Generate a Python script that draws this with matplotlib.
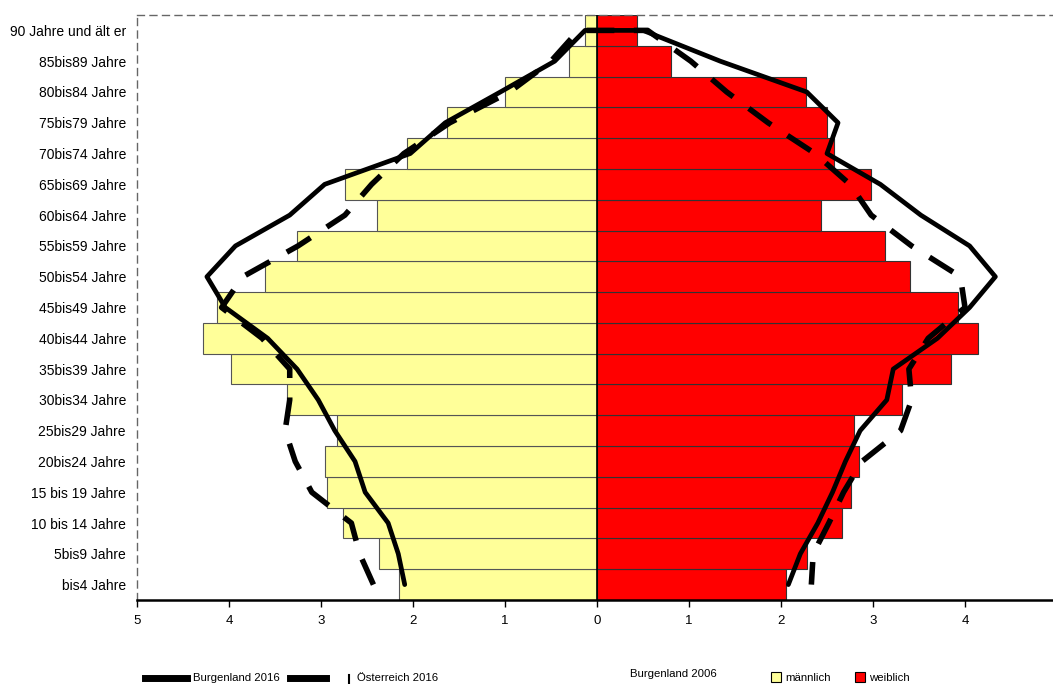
import matplotlib
matplotlib.use("Agg")
import matplotlib.pyplot as plt
from matplotlib.lines import Line2D
from matplotlib.patches import Rectangle
import numpy as np

plt.rcParams["font.family"] = ["Liberation Sans Narrow", "Liberation Sans", "DejaVu Sans"]

# age groups, bottom to top
groups = ["bis4 Jahre", "5bis9 Jahre", "10 bis 14 Jahre", "15 bis 19 Jahre", "20bis24 Jahre",
          "25bis29 Jahre", "30bis34 Jahre", "35bis39 Jahre", "40bis44 Jahre", "45bis49 Jahre",
          "50bis54 Jahre", "55bis59 Jahre", "60bis64 Jahre", "65bis69 Jahre", "70bis74 Jahre",
          "75bis79 Jahre", "80bis84 Jahre", "85bis89 Jahre", "90 Jahre und ält er"]

# Burgenland 2006 (bars), percent
male_2006 = [2.15, 2.37, 2.76, 2.93, 2.96, 2.83, 3.37, 3.98, 4.28, 4.13,
             3.61, 3.26, 2.39, 2.74, 2.07, 1.63, 1.00, 0.30, 0.13]
female_2006 = [2.05, 2.28, 2.66, 2.76, 2.85, 2.79, 3.32, 3.85, 4.14, 3.92,
               3.40, 3.13, 2.44, 2.98, 2.58, 2.50, 2.27, 0.80, 0.44]

# Burgenland 2016 (solid line)
male_bgld16 = [2.09, 2.16, 2.27, 2.52, 2.63, 2.85, 3.03, 3.26, 3.58, 4.04,
               4.24, 3.93, 3.34, 2.96, 2.03, 1.65, 1.05, 0.46, 0.13]
female_bgld16 = [2.08, 2.21, 2.40, 2.56, 2.70, 2.86, 3.15, 3.22, 3.70, 4.05,
                 4.33, 4.05, 3.52, 3.08, 2.50, 2.62, 2.28, 1.34, 0.50]

# Österreich 2016 (dashed line)
male_oe16 = [2.43, 2.58, 2.67, 3.10, 3.28, 3.39, 3.34, 3.34, 3.64, 4.08,
             3.85, 3.25, 2.74, 2.45, 2.10, 1.60, 0.95, 0.50, 0.20]
female_oe16 = [2.33, 2.35, 2.52, 2.68, 2.88, 3.30, 3.42, 3.39, 3.60, 4.00,
               3.95, 3.42, 2.98, 2.75, 2.37, 1.86, 1.41, 1.02, 0.55]

W, H = 1053, 684
fig = plt.figure(figsize=(W / 100, H / 100), dpi=100)
ax = fig.add_axes([137 / W, 84 / H, (1057 - 137) / W, (600 - 15) / H])

y = np.arange(len(groups))
ax.barh(y, [-v for v in male_2006], height=1.0, color="#ffff99", edgecolor="#555555", linewidth=0.8)
ax.barh(y, female_2006, height=1.0, color="#ff0000", edgecolor="#333333", linewidth=0.8)
ax.axvline(0, color="black", lw=1.2)

# lines run from bottom of male side up, across the top, down the female side
ys = np.concatenate([y, y[::-1]])
bg = np.concatenate([-np.array(male_bgld16), np.array(female_bgld16)[::-1]])
oe = np.concatenate([-np.array(male_oe16), np.array(female_oe16)[::-1]])
ax.plot(bg, ys, color="black", lw=3.4, solid_joinstyle="round", solid_capstyle="round")
ax.plot(oe, ys, color="black", lw=4.0, dashes=(5, 3.5))

ax.set_xlim(-5, 5)
ax.set_ylim(-0.5, 18.5)
ax.set_yticks(y)
ax.set_yticklabels(groups, fontsize=10)
ax.tick_params(axis="y", length=0, pad=8)
ax.set_xticks(range(-5, 5))
ax.set_xticklabels([str(abs(t)) for t in range(-5, 5)], fontsize=9.5)
ax.tick_params(axis="x", length=5, width=1, direction="out", pad=6)

for s in ["left", "top"]:
    ax.spines[s].set_linestyle((0, (5, 4)))
    ax.spines[s].set_color("#666666")
    ax.spines[s].set_linewidth(1)
ax.spines["right"].set_visible(False)
ax.spines["bottom"].set_linewidth(1.8)

# legend row at the bottom
fs = 8.2
ly = (H - 678) / H
fig.add_artist(Line2D([145 / W, 187 / W], [ly, ly], color="black", lw=5))
fig.text(193 / W, ly, "Burgenland 2016", fontsize=fs, va="center")
fig.add_artist(Line2D([290 / W, 326 / W], [ly, ly], color="black", lw=5))
fig.add_artist(Line2D([349 / W, 349 / W], [ly - 6 / H, ly + 3 / H], color="black", lw=1.5))
fig.text(357 / W, ly, "Österreich 2016", fontsize=fs, va="center")
fig.text(630 / W, (H - 674) / H, "Burgenland 2006", fontsize=fs, va="center")
fig.add_artist(Rectangle((771 / W, (H - 682) / H), 10 / W, 10 / H, facecolor="#ffff99",
                         edgecolor="black", lw=0.8))
fig.text(785 / W, ly, "männlich", fontsize=fs, va="center")
fig.add_artist(Rectangle((855 / W, (H - 682) / H), 10 / W, 10 / H, facecolor="#ff0000",
                         edgecolor="black", lw=0.8))
fig.text(869 / W, ly, "weiblich", fontsize=fs, va="center")

fig.savefig("out.png", dpi=100)
